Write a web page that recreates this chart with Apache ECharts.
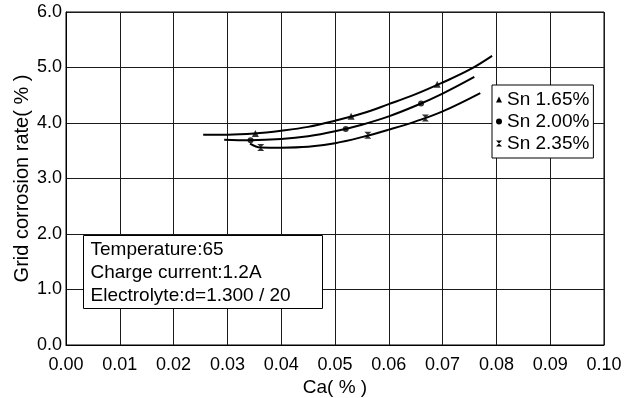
<!DOCTYPE html>
<html>
<head>
<meta charset="utf-8">
<script src="https://cdn.jsdelivr.net/npm/echarts@6/dist/echarts.min.js"></script>
<style>html,body{margin:0;padding:0;background:#fff}#c{width:631px;height:398px}</style>
</head>
<body>
<div id="c"></div>
<script>
// ---- data ----
var xTicks = ['0.00','0.01','0.02','0.03','0.04','0.05','0.06','0.07','0.08','0.09','0.10'];
var yTicks = ['0.0','1.0','2.0','3.0','4.0','5.0','6.0'];
var seriesNames = ['Sn 1.65%', 'Sn 2.00%', 'Sn 2.35%'];

// curves (Ca %, rate %)
var sn165CurveCa   = [0.0255, 0.030, 0.035, 0.040, 0.045, 0.050, 0.055, 0.060, 0.065, 0.070, 0.075, 0.0792];
var sn165CurveRate = [3.79,   3.79,  3.81,  3.86,  3.93,  4.04,  4.17,  4.34,  4.52,  4.73,  4.96,  5.21];
var sn200CurveCa   = [0.0294, 0.0343, 0.040, 0.045, 0.050, 0.055, 0.060, 0.065, 0.070, 0.0759];
var sn200CurveRate = [3.70,   3.69,   3.71,  3.76,  3.85,  3.97,  4.12,  4.31,  4.53,  4.83];
var sn235CurveCa   = [0.0342, 0.0362, 0.040, 0.045, 0.050, 0.055, 0.060, 0.065, 0.070, 0.077];
var sn235CurveRate = [3.63,   3.56,   3.555, 3.57,  3.635, 3.745, 3.88,  4.03,  4.21,  4.54];

// measured points (markers)
var sn165PtCa   = [0.0352, 0.0530, 0.0690];
var sn165PtRate = [3.81,   4.12,   4.70];
var sn200PtCa   = [0.0343, 0.0520, 0.0660];
var sn200PtRate = [3.69,   3.89,   4.35];
var sn235PtCa   = [0.0362, 0.0561, 0.0668];
var sn235PtRate = [3.56,   3.78,   4.09];

var noteLines = ['Temperature:65', 'Charge current:1.2A', 'Electrolyte:d=1.300 / 20'];

// ---- chart ----
var FONT = '"Liberation Sans", Arial, sans-serif';
var hourglass = 'path://M0,0L10,0L0,10L10,10Z';
var symbols = ['triangle', 'circle', hourglass];

function pairs(xs, ys) { return xs.map(function (x, i) { return [x, ys[i]]; }); }
var curves = [pairs(sn165CurveCa, sn165CurveRate), pairs(sn200CurveCa, sn200CurveRate), pairs(sn235CurveCa, sn235CurveRate)];
var points = [pairs(sn165PtCa, sn165PtRate), pairs(sn200PtCa, sn200PtRate), pairs(sn235PtCa, sn235PtRate)];

var series = [];
seriesNames.forEach(function (n, i) {
  series.push({
    name: n, type: 'line', smooth: 0.4, data: curves[i], showSymbol: false, symbol: 'none',
    lineStyle: { color: '#000', width: 2 }, itemStyle: { color: '#000' }, z: 3
  });
  series.push({
    name: n, type: 'scatter', data: points[i], symbol: symbols[i],
    symbolSize: i === 1 ? 6 : 7, itemStyle: { color: '#000' }, z: 4
  });
});

var chart = echarts.init(document.getElementById('c'), null, { renderer: 'canvas' });
chart.setOption({
  animation: false,
  backgroundColor: '#fff',
  textStyle: { fontFamily: FONT },
  grid: { left: 66, right: 27, top: 12, bottom: 53, containLabel: false, outerBoundsMode: 'none',
    show: true, borderColor: '#000', borderWidth: 1, backgroundColor: '#fff' },
  xAxis: {
    type: 'value', min: 0, max: 0.1, interval: 0.01,
    name: 'Ca( % )', nameLocation: 'middle', nameGap: 33, nameMoveOverlap: false,
    nameTextStyle: { color: '#000', fontSize: 19, fontFamily: FONT },
    axisLine: { show: true, lineStyle: { color: '#000', width: 1 } },
    axisTick: { show: false },
    axisLabel: { color: '#000', fontSize: 18, fontFamily: FONT, margin: 11,
      formatter: function (v) { return xTicks[Math.round(v * 100)]; } },
    splitLine: { show: true, lineStyle: { color: '#1a1a1a', width: 1 } }
  },
  yAxis: {
    type: 'value', min: 0, max: 6, interval: 1,
    name: 'Grid corrosion rate( % )', nameLocation: 'middle', nameGap: 34, nameMoveOverlap: false,
    nameTextStyle: { color: '#000', fontSize: 20, fontFamily: FONT },
    axisLine: { show: true, lineStyle: { color: '#000', width: 1 } },
    axisTick: { show: false },
    axisLabel: { color: '#000', fontSize: 18, fontFamily: FONT, margin: 4,
      formatter: function (v) { return yTicks[Math.round(v)]; } },
    splitLine: { show: true, lineStyle: { color: '#1a1a1a', width: 1 } }
  },
  legend: {
    orient: 'vertical', left: 492, top: 85,
    padding: [5, 4, 5, 4], itemGap: 3, itemWidth: 6, itemHeight: 6, itemTextGap: 5,
    backgroundColor: '#fff', borderColor: '#000', borderWidth: 1,
    textStyle: { color: '#000', fontSize: 19, lineHeight: 19, fontFamily: FONT },
    data: seriesNames.map(function (n, i) { return { name: n, icon: symbols[i], itemStyle: { color: '#000' } }; })
  },
  series: series,
  graphic: [{
    type: 'group', left: 83, top: 235, z: 100, zlevel: 0,
    children: [
      { type: 'rect', z: 100, shape: { x: 0, y: 0, width: 239, height: 73 },
        style: { fill: '#fff', stroke: '#000', lineWidth: 1 } }
    ].concat(noteLines.map(function (t, i) {
      return { type: 'text', z: 101, x: 7, y: 14 + i * 23,
        style: { text: t, fill: '#000', font: '19px ' + FONT, textVerticalAlign: 'middle', verticalAlign: 'middle' } };
    }))
  }]
});
</script>
</body>
</html>
